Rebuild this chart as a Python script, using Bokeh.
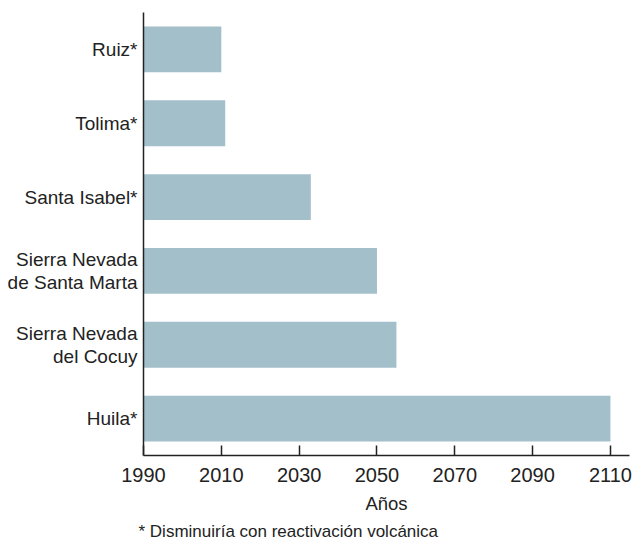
from bokeh.plotting import figure
from bokeh.models import FixedTicker, Title, Range1d, FactorRange
from bokeh.embed import file_html
from bokeh.resources import INLINE

# Data
glaciers = ["Ruiz*", "Tolima*", "Santa Isabel*", "Sierra Nevada\nde Santa Marta",
            "Sierra Nevada\ndel Cocuy", "Huila*"]
years_end = [2010, 2011, 2033, 2050, 2055, 2110]
base_year = 1990
x_ticks = [1990, 2010, 2030, 2050, 2070, 2090, 2110]
footnote = "* Disminuiría con reactivación volcánica"

FONT = "Liberation Sans"
TXT = "#222222"
BAR = "#a3bfca"

p = figure(width=634, height=543, output_backend="svg", toolbar_location=None,
           y_range=FactorRange(factors=list(reversed(glaciers))),
           x_range=Range1d(1990, 2114.9),
           min_border_left=143, min_border_right=5, min_border_top=12, min_border_bottom=88)

p.hbar(y=glaciers, right=years_end, left=base_year, height=0.62,
       fill_color=BAR, line_color=None)

p.outline_line_color = None
p.xgrid.grid_line_color = None
p.ygrid.grid_line_color = None
p.background_fill_color = "white"
p.border_fill_color = "white"

# x axis
xa = p.xaxis[0]
xa.ticker = FixedTicker(ticks=x_ticks)
xa.minor_tick_line_color = None
xa.major_tick_in = 10
xa.major_tick_out = 0
xa.axis_line_color = TXT
xa.axis_line_width = 1.5
xa.major_tick_line_color = TXT
xa.major_tick_line_width = 1.5
xa.major_label_text_font = FONT
xa.major_label_text_font_size = "20px"
xa.major_label_text_color = TXT
xa.major_label_standoff = 12
xa.axis_label = "Años"
xa.axis_label_text_font = FONT
xa.axis_label_text_font_size = "18.5px"
xa.axis_label_text_font_style = "normal"
xa.axis_label_text_color = TXT
xa.axis_label_standoff = 8

# y axis
ya = p.yaxis[0]
ya.axis_line_color = TXT
ya.axis_line_width = 1.5
ya.major_tick_line_color = None
ya.minor_tick_line_color = None
ya.major_tick_out = 0
ya.major_tick_in = 0
ya.major_label_text_font = FONT
ya.major_label_text_font_size = "19px"
ya.major_label_text_color = TXT
ya.major_label_text_line_height = 1.1
ya.major_label_standoff = 6

note = Title(text=footnote, align="left", offset=-5,
             text_font=FONT, text_font_size="17px", text_font_style="normal",
             text_color=TXT, standoff=6, text_line_height=0.85)
p.add_layout(note, "below")

open("out.html", "w").write(file_html(p, INLINE))
